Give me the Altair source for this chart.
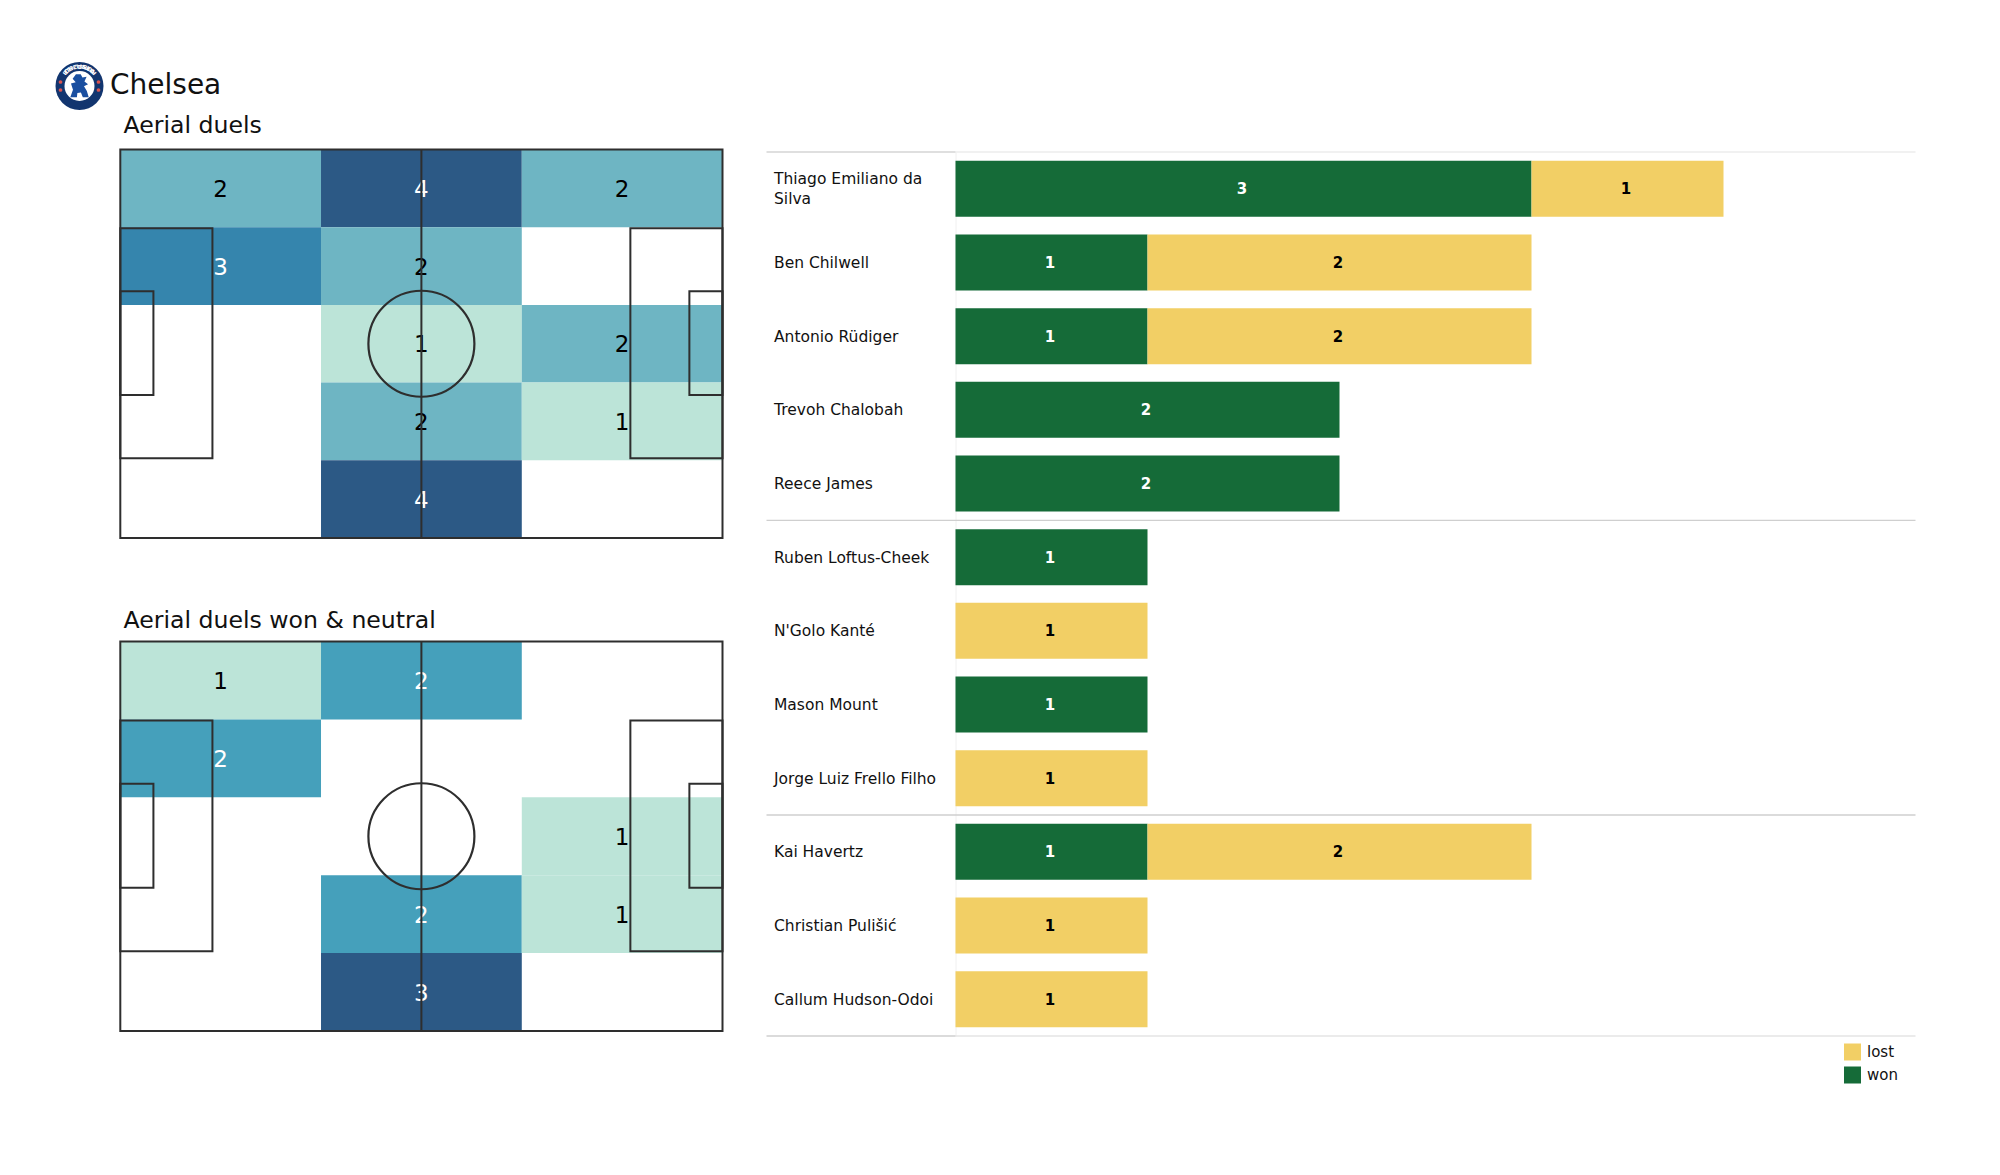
import math
import altair as alt
import pandas as pd

TEAM = "Chelsea"
TITLE_A = "Aerial duels"
TITLE_B = "Aerial duels won & neutral"
CREST_TOP = "CHELSEA"
CREST_BOTTOM = "FOOTBALL CLUB"
ROWS_A = [[2, 4, 2], [3, 2, 0], [0, 1, 2], [0, 2, 1], [0, 4, 0]]
ROWS_B = [[1, 2, 0], [2, 0, 0], [0, 0, 1], [0, 2, 1], [0, 3, 0]]
X_EDGES = [0, 33.33, 66.67, 100]
Y_EDGES = [0, 20, 40, 60, 80, 100]
COLORS_A = ["#bce4d8", "#6eb5c3", "#3585ad", "#2c5985"]
COLORS_B = ["#bce4d8", "#45a0bb", "#2c5985"]

PLAYERS = ["Thiago Emiliano da Silva", "Ben Chilwell", "Antonio Rüdiger", "Trevoh Chalobah",
           "Reece James", "Ruben Loftus-Cheek", "N'Golo Kanté", "Mason Mount",
           "Jorge Luiz Frello Filho", "Kai Havertz", "Christian Pulišić", "Callum Hudson-Odoi"]
WON = [3, 1, 1, 2, 2, 1, 0, 1, 0, 1, 0, 0]
LOST = [1, 2, 2, 0, 0, 0, 1, 0, 1, 2, 1, 1]
GROUP_ENDS = ["Reece James", "Jorge Luiz Frello Filho"]

WON_COLOR = "#156b38"
LOST_COLOR = "#f2cf65"
LINE = "#2e2e2e"
FONT = "DejaVu Sans"
LOGO_X, LOGO_Y = 71.5, 78


def pitch(rows, colors, white_from, y_range):
    xs = alt.Scale(domain=[0, 100], range=[112.3, 714.5], nice=False, zero=False)
    ys = alt.Scale(domain=[0, 100], range=y_range, nice=False, zero=False)
    cells = []
    for r, row in enumerate(rows):
        for c, v in enumerate(row):
            if v > 0:
                cells.append(dict(x0=X_EDGES[c], x1=X_EDGES[c + 1], y0=Y_EDGES[r], y1=Y_EDGES[r + 1],
                                  xc=(X_EDGES[c] + X_EDGES[c + 1]) / 2, yc=(Y_EDGES[r] + Y_EDGES[r + 1]) / 2, v=v))
    cells = pd.DataFrame(cells)
    boxes = pd.DataFrame([
        dict(x0=0, x1=100, y0=0, y1=100),
        dict(x0=0, x1=15.3, y0=20.3, y1=79.5),
        dict(x0=84.7, x1=100, y0=20.3, y1=79.5),
        dict(x0=0, x1=5.5, y0=36.5, y1=63.2),
        dict(x0=94.5, x1=100, y0=36.5, y1=63.2),
    ])
    rect = alt.Chart(cells).mark_rect(strokeWidth=0).encode(
        x=alt.X("x0:Q", scale=xs, axis=None), x2="x1:Q",
        y=alt.Y("y0:Q", scale=ys, axis=None), y2="y1:Q",
        color=alt.Color("v:O", scale=alt.Scale(domain=list(range(1, len(colors) + 1)), range=colors), legend=None),
    )
    label = alt.Chart(cells).mark_text(font=FONT, fontSize=23, dy=1.5).encode(
        x=alt.X("xc:Q", scale=xs, axis=None),
        y=alt.Y("yc:Q", scale=ys, axis=None),
        text="v:Q",
        color=alt.condition(f"datum.v >= {white_from}", alt.value("white"), alt.value("black")),
    )
    box = alt.Chart(boxes).mark_rect(fillOpacity=0, stroke=LINE, strokeWidth=2).encode(
        x=alt.X("x0:Q", scale=xs, axis=None), x2="x1:Q",
        y=alt.Y("y0:Q", scale=ys, axis=None), y2="y1:Q",
    )
    mid = alt.Chart(pd.DataFrame([dict(x=50, y0=0, y1=100)])).mark_rule(color=LINE, strokeWidth=2).encode(
        x=alt.X("x:Q", scale=xs, axis=None),
        y=alt.Y("y0:Q", scale=ys, axis=None), y2="y1:Q",
    )
    circle = alt.Chart(pd.DataFrame([dict(x=50, y=50)])).mark_point(
        shape="circle", size=11236, filled=False, stroke=LINE, strokeWidth=2.2, opacity=1
    ).encode(
        x=alt.X("x:Q", scale=xs, axis=None),
        y=alt.Y("y:Q", scale=ys, axis=None),
    )
    return alt.layer(rect, label, box, mid, circle)


def caption(text, x, y, size):
    return alt.Chart(pd.DataFrame([dict(t=text)])).mark_text(
        font=FONT, fontSize=size, align="left", baseline="middle", color="#111111"
    ).encode(x=alt.value(x), y=alt.value(y), text="t:N")


def dot(x, y, size, fill):
    return alt.Chart(pd.DataFrame([dict(k=1)])).mark_point(
        shape="circle", size=size, filled=True, fill=fill, stroke=fill, strokeWidth=0, opacity=1
    ).encode(x=alt.value(x), y=alt.value(y))


def arc_letters(word, start, step, radius, flip):
    out = []
    for i, ch in enumerate(word):
        a = start + i * step
        px = LOGO_X + radius * math.sin(math.radians(a))
        py = LOGO_Y - radius * math.cos(math.radians(a))
        rot = (a + 180) % 360 if flip else a % 360
        out.append(alt.Chart(pd.DataFrame([dict(t=ch)])).mark_text(
            font=FONT, fontSize=5.5, fontWeight="bold", color="white", angle=rot, baseline="middle"
        ).encode(x=alt.value(px), y=alt.value(py), text="t:N"))
    return out


lion_path = ("M-0.3,-1 L0.1,-1 L0.25,-0.72 L0.6,-0.78 L0.42,-0.38 L0.72,-0.15 L0.38,0.02 L0.62,0.42 "
             "L0.78,0.95 L0.28,0.95 L0.12,0.55 L-0.18,0.6 L-0.22,0.95 L-0.78,0.95 L-0.55,0.32 L-0.72,-0.22 "
             "L-0.32,-0.32 L-0.58,-0.62 Z")
lion = alt.Chart(pd.DataFrame([dict(k=1)])).mark_point(
    shape=lion_path, size=560, filled=True, fill="#1a4fa0", strokeWidth=0, opacity=1
).encode(x=alt.value(LOGO_X), y=alt.value(LOGO_Y))

logo = alt.layer(
    dot(LOGO_X, LOGO_Y, 2304, "#12356f"),
    dot(LOGO_X, LOGO_Y, 900, "#ffffff"),
    dot(LOGO_X - 19, LOGO_Y - 4, 14, "#d9534f"),
    dot(LOGO_X + 19, LOGO_Y - 4, 14, "#d9534f"),
    dot(LOGO_X - 19, LOGO_Y + 4, 14, "#d9534f"),
    dot(LOGO_X + 19, LOGO_Y + 4, 14, "#d9534f"),
    lion,
    *arc_letters(CREST_TOP, -42, 14, 19.5, False),
    *arc_letters(CREST_BOTTOM, 48, -8, 19.5, True),
)

left = alt.layer(
    pitch(ROWS_A, COLORS_A, 3, [141.5, 530]),
    pitch(ROWS_B, COLORS_B, 2, [633.5, 1023]),
    logo,
    caption(TEAM, 102, 78, 28),
    caption(TITLE_A, 115.5, 118, 23.6),
    caption(TITLE_B, 115.5, 613, 23.6),
).resolve_scale(x="independent", y="independent", color="independent").properties(width=745, height=1150)

long = pd.DataFrame(
    [dict(player=p, outcome="won", n=w, ord=0) for p, w in zip(PLAYERS, WON)]
    + [dict(player=p, outcome="lost", n=l, ord=1) for p, l in zip(PLAYERS, LOST)]
)
long = long[long.n > 0]

y_scale = alt.Scale(domain=PLAYERS, range=[144, 1028], paddingInner=0.24, paddingOuter=0.12)
x_scale = alt.Scale(domain=[0, 5], nice=False, zero=True)
y_axis = alt.Axis(
    ticks=False, domain=True, domainColor="#f0f0f0", domainWidth=1, grid=False, labelAlign="left", labelPadding=182,
    labelFont=FONT, labelFontSize=15.5, labelColor="#111111", labelLimit=190, labelBaseline="middle", title=None,
    labelLineHeight=20,
    labelOffset={"condition": {"test": "datum.label == 'Thiago Emiliano da Silva'", "value": -10}, "value": 0.5},
    labelExpr="datum.label == 'Thiago Emiliano da Silva' ? ['Thiago Emiliano da', 'Silva'] : datum.label",
)
y_enc = alt.Y("player:N", scale=y_scale, sort=None, title=None, axis=y_axis)
stacked = alt.Chart(long).transform_stack(
    stack="n", groupby=["player"], sort=[alt.SortField("ord")], as_=["s0", "s1"], offset="zero"
).transform_calculate(mid="(datum.s0 + datum.s1) / 2")

bars = stacked.mark_bar(strokeWidth=0).encode(
    x=alt.X("s0:Q", scale=x_scale, axis=None), x2="s1:Q", y=y_enc,
    color=alt.Color("outcome:N", scale=alt.Scale(domain=["lost", "won"], range=[LOST_COLOR, WON_COLOR]),
                    legend=alt.Legend(orient="none", legendX=1836, legendY=1035.5, title=None, symbolType="square",
                                      symbolSize=289, symbolStrokeWidth=0, labelFont=FONT, labelFontSize=15,
                                      labelColor="#111111", rowPadding=6, labelOffset=6, symbolOpacity=1)),
)
texts = stacked.mark_text(font=FONT, fontSize=15, fontWeight="bold", dx=-1.5, dy=0.5).encode(
    x=alt.X("mid:Q", scale=x_scale, axis=None), y=y_enc,
    text="n:Q",
    color=alt.condition("datum.outcome == 'won'", alt.value("white"), alt.value("black")),
)


def sep(players, band, off, x0, x1, color):
    return alt.Chart(pd.DataFrame({"player": players})).mark_rule(color=color, strokeWidth=1.4, yOffset=off).encode(
        y=alt.Y("player:N", scale=y_scale, sort=None, title=None, axis=y_axis, bandPosition=band),
        x=alt.value(x0), x2=alt.value(x1),
    )


GAP = 8.85
rules = [
    sep([PLAYERS[0]], 0, -GAP, 0, 960, "#ececec"),
    sep([PLAYERS[0]], 0, -GAP, -189, 0, "#d4d4d4"),
    sep(GROUP_ENDS, 1, GAP, -189, 960, "#cfcfcf"),
    sep([PLAYERS[-1]], 1, GAP, 0, 960, "#e4e4e4"),
    sep([PLAYERS[-1]], 1, GAP, -189, 0, "#cfcfcf"),
]

right = alt.layer(bars, texts, *rules).properties(width=960, height=1150)

chart = alt.hconcat(left, right, spacing=12.5).properties(padding=0, background="white").configure_view(stroke=None)
chart.save("out.html", embed_options={"renderer": "svg", "actions": False})
